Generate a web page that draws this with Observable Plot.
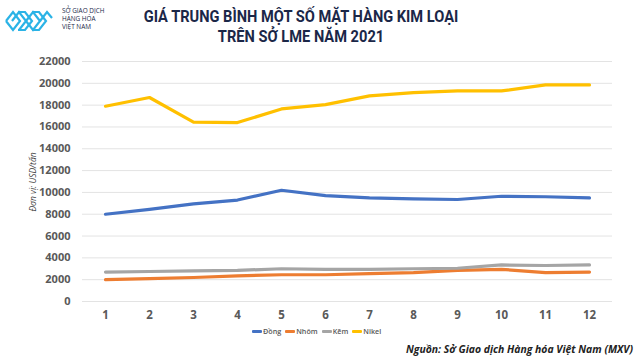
<!DOCTYPE html>
<html><head><meta charset="utf-8">
<script src="https://cdn.jsdelivr.net/npm/d3@7"></script>
<script src="https://cdn.jsdelivr.net/npm/@observablehq/plot@0.6"></script>
<style>
body{margin:0;width:640px;height:360px;position:relative;background:#fff;font-family:"Open Sans",sans-serif;overflow:hidden}
#title{position:absolute;left:101px;width:400px;top:6px;text-align:center;font-family:"Roboto",sans-serif;font-weight:bold;font-size:17px;line-height:20px;color:#1b2748;transform:scaleX(0.86);transform-origin:center top}
#logo{position:absolute;left:4px;top:6px}
#logotext{position:absolute;left:62px;top:7px;font-family:"Open Sans",sans-serif;font-size:6.4px;line-height:8px;color:#1b2748}
#chart{position:absolute;left:0;top:50px}
#ylab{position:absolute;left:32px;top:182px;transform:translate(-50%,-50%) rotate(-90deg);font-style:italic;font-size:8.5px;color:#444;white-space:nowrap}
#legend{position:absolute;left:252px;top:326px;font-size:7.2px;font-weight:600;color:#595959;display:flex;gap:4px;align-items:center}
#legend span{display:flex;align-items:center}
#legend i{display:inline-block;width:10px;height:3px;margin-right:1px;border-radius:1px}
#caption{position:absolute;right:7px;top:342px;font-style:italic;font-weight:bold;font-size:10.4px;color:#222}
</style></head>
<body>
<svg id="logo" width="50" height="30" viewBox="0 0 50 30">
<g fill="none" stroke="#2bb3e6" stroke-width="2.2">
<polyline points="2,15 9,6 16,15 9,24 2,15"/>
<polyline points="8,15 15,6 22,15 15,24"/>
<polyline points="14,6 21,6 28,15 21,24 14,24"/>
<polyline points="22,15 29,6 36,15 29,24 22,15"/>
<polyline points="28,6 35,6 42,15 35,24 28,24"/>
<polyline points="36,15 43,6 48,12"/>
</g></svg>
<div id="logotext">SỞ GIAO DỊCH<br>HÀNG HÓA<br>VIỆT NAM</div>
<div id="title">GIÁ TRUNG BÌNH MỘT SỐ MẶT HÀNG KIM LOẠI<br>TRÊN SỞ LME NĂM 2021</div>
<div id="chart"></div>
<div id="ylab">Đơn vị: USD/tấn</div>
<div id="legend"></div>
<div id="caption">Nguồn: Sở Giao dịch Hàng hóa Việt Nam (MXV)</div>
<script>
const months = [1,2,3,4,5,6,7,8,9,10,11,12];
const seriesNames = ["Đồng","Nhôm","Kẽm","Nikel"];
const seriesColors = ["#4472C4","#ED7D31","#A5A5A5","#FFC000"];
const dong  = [8000,8450,8950,9300,10200,9700,9500,9400,9350,9650,9600,9500];
const nhom  = [2000,2100,2200,2350,2450,2450,2550,2650,2850,2950,2650,2700];
const kem   = [2700,2750,2800,2850,3000,2950,2950,3000,3050,3350,3300,3350];
const nikel = [17900,18700,16450,16400,17650,18050,18850,19150,19300,19300,19850,19850];
const yTicks = [0,2000,4000,6000,8000,10000,12000,14000,16000,18000,20000,22000];

const allSeries = [dong, nhom, kem, nikel];
const data = [];
allSeries.forEach((vals, si) => vals.forEach((v, i) => data.push({month: months[i], value: v, series: seriesNames[si]})));

const chart = Plot.plot({
  width: 640, height: 275,
  marginLeft: 82, marginRight: 28, marginTop: 11, marginBottom: 24,
  style: {fontFamily: "Open Sans, sans-serif", fontSize: "11px", fontWeight: "bold", color: "#595959", background: "transparent"},
  x: {type: "point", domain: months, padding: 0.5, label: null, tickSize: 0, tickPadding: 9},
  y: {domain: [0, 22000], ticks: yTicks, label: null, tickSize: 0, tickPadding: 12, tickFormat: d => String(d)},
  color: {domain: seriesNames, range: seriesColors},
  marks: [
    Plot.ruleY(yTicks, {stroke: "#e3e3e3", strokeWidth: 1}),
    Plot.axisX({tickSize: 0, tickPadding: 9, fontSize: 11.5}),
    Plot.axisY({ticks: yTicks, tickSize: 0, tickPadding: 12, tickFormat: d => String(d)}),
    Plot.line(data, {x: "month", y: "value", z: "series", stroke: "series", strokeWidth: 3.2, curve: "linear", strokeLinejoin: "round", strokeLinecap: "round"})
  ]
});
document.getElementById("chart").appendChild(chart);

const lg = document.getElementById("legend");
seriesNames.forEach((n, i) => {
  const s = document.createElement("span");
  s.innerHTML = `<i style="background:${seriesColors[i]}"></i>${n}`;
  lg.appendChild(s);
});
</script>
</body></html>
